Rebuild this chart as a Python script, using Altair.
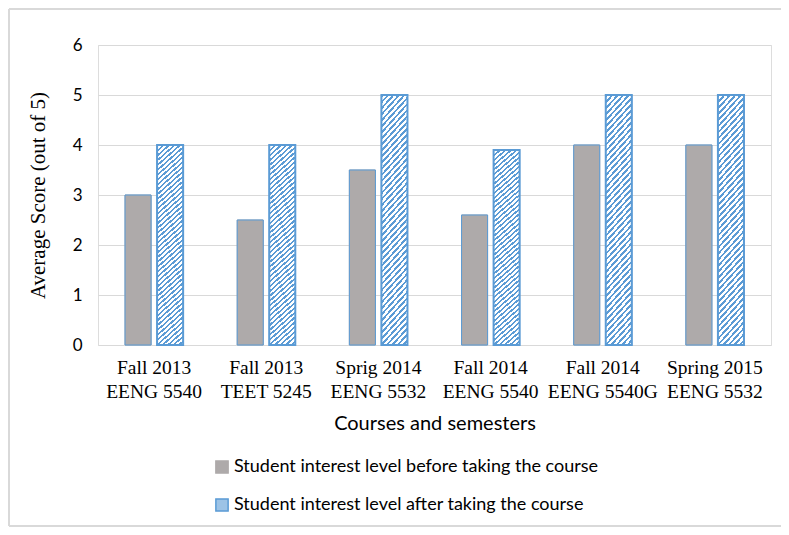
import altair as alt
import pandas as pd

semesters = ["Fall 2013", "Fall 2013", "Sprig 2014", "Fall 2014", "Fall 2014", "Spring 2015"]
courses = ["EENG 5540", "TEET 5245", "EENG 5532", "EENG 5540", "EENG 5540G", "EENG 5532"]
before = [3.0, 2.5, 3.5, 2.6, 4.0, 4.0]
after = [4.0, 4.0, 5.0, 3.9, 5.0, 5.0]
series_names = ["Student interest level before taking the course",
                "Student interest level after taking the course"]
y_ticks = [0, 1, 2, 3, 4, 5, 6]

categories = [f"{s}\n{c}" for s, c in zip(semesters, courses)]
rows = []
for cat, b, a in zip(categories, before, after):
    rows.append({"cat": cat, "series": series_names[0], "value": b})
    rows.append({"cat": cat, "series": series_names[1], "value": a})
df = pd.DataFrame(rows)

BLUE = "#5b9bd5"
GRAY = "#aeaaaa"

# diagonal hatch approximated by a striped linear gradient
N = 46
stops = []
for i in range(N):
    stops.append(alt.GradientStop(offset=i / N, color=BLUE))
    stops.append(alt.GradientStop(offset=(i + 0.45) / N, color=BLUE))
    stops.append(alt.GradientStop(offset=(i + 0.45) / N, color="#ffffff"))
    stops.append(alt.GradientStop(offset=(i + 1) / N, color="#ffffff"))
hatch = alt.LinearGradient(gradient="linear", stops=stops,
                           x1=0, y1=0, x2=0.1273, y2=1.1009)

x_enc = alt.X("cat:N", sort=categories, title="Courses and semesters",
              scale=alt.Scale(paddingInner=0, paddingOuter=0),
              axis=alt.Axis(labelAngle=0, labelExpr="split(datum.label, '\\n')",
                            labelFont="Liberation Serif", labelFontSize=19.5,
                            labelColor="#000000", labelLineHeight=24,
                            labelPadding=13, ticks=False, domain=False,
                            titleFont="Lato", titleFontSize=20, titleFontWeight="normal",
                            titleColor="#000000", titlePadding=13))
xo_enc = alt.XOffset("series:N", sort=series_names,
                     scale=alt.Scale(domain=series_names, paddingInner=0.1875,
                                     paddingOuter=0.84375))
y_enc = alt.Y("value:Q", title="Average Score (out of 5)",
              scale=alt.Scale(domain=[0, 6], nice=False),
              axis=alt.Axis(values=y_ticks, ticks=False, domain=False,
                            labelFont="Lato", labelFontSize=17, labelColor="#000000",
                            labelPadding=16, gridColor="#d9d9d9", gridWidth=1,
                            titleFont="Liberation Serif", titleFontSize=21,
                            titleFontWeight="normal", titleColor="#000000",
                            titleAngle=-90, titleX=-60, titleY=150,
                            titleAlign="center", titleBaseline="middle"))

base = alt.Chart(df)

legend_bars = base.mark_bar(strokeWidth=1).encode(
    x=x_enc, xOffset=xo_enc, y=y_enc,
    fill=alt.Fill("series:N", sort=series_names,
                  scale=alt.Scale(domain=series_names, range=[GRAY, "#9dc3e6"]),
                  legend=alt.Legend(title=None, orient="none", legendX=115, legendY=413,
                                    direction="vertical", symbolType="square",
                                    symbolSize=150, labelFont="Lato", labelFontSize=18,
                                    labelColor="#000000", labelOffset=3,
                                    rowPadding=18, labelLimit=600)),
    stroke=alt.Stroke("series:N", sort=series_names,
                      scale=alt.Scale(domain=series_names, range=[GRAY, BLUE]),
                      legend=None),
)

gray_outline = base.transform_filter(
    alt.datum.series == series_names[0]
).mark_bar(fillOpacity=0, stroke=BLUE, strokeWidth=1).encode(
    x=x_enc, xOffset=xo_enc, y=y_enc)

hatched = base.transform_filter(
    alt.datum.series == series_names[1]
).mark_bar(fill=hatch, stroke=BLUE, strokeWidth=2).encode(
    x=x_enc, xOffset=xo_enc, y=y_enc)

one = alt.Data(values=[{}])
frame_left = alt.Chart(one).mark_rule(stroke="#d9d9d9", strokeWidth=2).encode(
    x=alt.value(-89), y=alt.value(-36), y2=alt.value(481))
frame_top = alt.Chart(one).mark_rule(stroke="#d9d9d9", strokeWidth=2).encode(
    x=alt.value(-89), x2=alt.value(700), y=alt.value(-36))
frame_bottom = alt.Chart(one).mark_rule(stroke="#d9d9d9", strokeWidth=2).encode(
    x=alt.value(-89), x2=alt.value(700), y=alt.value(481))

chart = alt.layer(frame_left, frame_top, frame_bottom,
                  legend_bars, gray_outline, hatched).properties(
    width=673, height=300,
    autosize=alt.AutoSizeParams(type="none"),
    padding={"left": 90, "top": 37, "right": 10, "bottom": 182},
).configure_view(stroke=None).configure(background="#ffffff")

chart.save("out.html", embed_options={"renderer": "svg", "actions": False})
